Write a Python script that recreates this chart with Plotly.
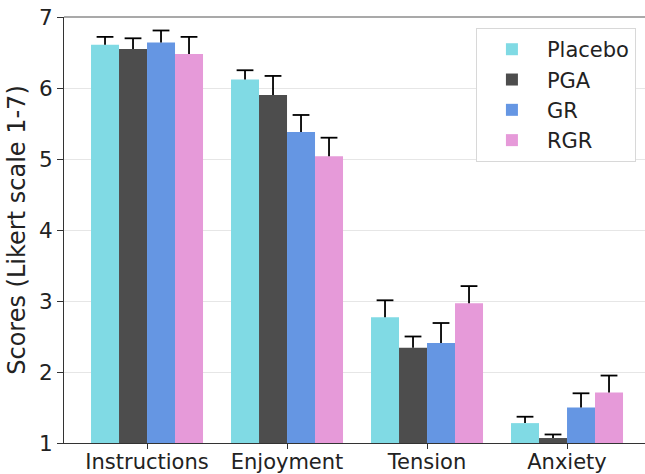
import plotly.graph_objects as go

categories = ["Instructions", "Enjoyment", "Tension", "Anxiety"]
groups = ["Placebo", "PGA", "GR", "RGR"]
colors = ["#80DAE4", "#4D4D4D", "#6596E3", "#E69AD9"]

placebo = [6.61, 6.12, 2.77, 1.28]
pga = [6.55, 5.90, 2.34, 1.07]
gr = [6.64, 5.38, 2.41, 1.50]
rgr = [6.48, 5.04, 2.97, 1.71]

placebo_err = [0.11, 0.13, 0.24, 0.09]
pga_err = [0.15, 0.27, 0.16, 0.05]
gr_err = [0.17, 0.24, 0.28, 0.20]
rgr_err = [0.24, 0.26, 0.24, 0.24]

values = [placebo, pga, gr, rgr]
errors = [placebo_err, pga_err, gr_err, rgr_err]

fig = go.Figure()
for name, col, vals in zip(groups, colors, values):
    fig.add_trace(go.Bar(
        name=name, x=categories, y=[v - 1 for v in vals], base=1,
        marker=dict(color=col, line=dict(width=0)),
    ))
# one-sided (upper) error bars: stem + cap marker at the top
for name, vals, errs in zip(groups, values, errors):
    fig.add_trace(go.Scatter(
        x=categories, y=[v + e for v, e in zip(vals, errs)],
        mode="markers", showlegend=False, hoverinfo="skip",
        marker=dict(symbol="line-ew", size=12, color="black",
                    line=dict(color="black", width=1.8)),
        error_y=dict(type="data", symmetric=False, array=[0] * len(errs),
                     arrayminus=errs, color="black", thickness=1.8, width=0),
    ))

fig.update_layout(
    width=645, height=474,
    margin=dict(l=64, r=0, t=17, b=31),
    paper_bgcolor="white", plot_bgcolor="white",
    barmode="group", bargap=0.2, bargroupgap=0,
    scattermode="group", scattergap=0.2,
    font=dict(family="DejaVu Sans", size=21, color="#222"),
    legend=dict(x=0.709, y=0.974, xanchor="left", yanchor="top",
                bordercolor="#d8d8d8", borderwidth=1, bgcolor="white",
                font=dict(size=21), itemwidth=60),
    showlegend=True,
)
fig.update_xaxes(range=[-0.593, 3.557], showline=True, linecolor="#333",
                 linewidth=1.2, ticks="outside", ticklen=5, tickcolor="#333",
                 mirror=False, showgrid=False, tickfont=dict(size=21),
                 automargin=False, ticklabelstandoff=-5)
fig.update_yaxes(range=[1, 7], dtick=1, showline=True, linecolor="#333",
                 linewidth=1.2, ticks="outside", ticklen=6, tickcolor="#333",
                 showgrid=True, gridcolor="#e6e6e6", gridwidth=1,
                 zeroline=False, tickfont=dict(size=21.5), automargin=False,
                 title=dict(text="Scores (Likert scale 1-7)", font=dict(size=24), standoff=6))
fig.add_shape(type="line", xref="paper", yref="paper", x0=0, x1=1, y0=1, y1=1,
              line=dict(color="#555", width=1.2))

fig.write_html("out.html", config={"displayModeBar": False},
               post_script="document.body.style.margin='0';")
